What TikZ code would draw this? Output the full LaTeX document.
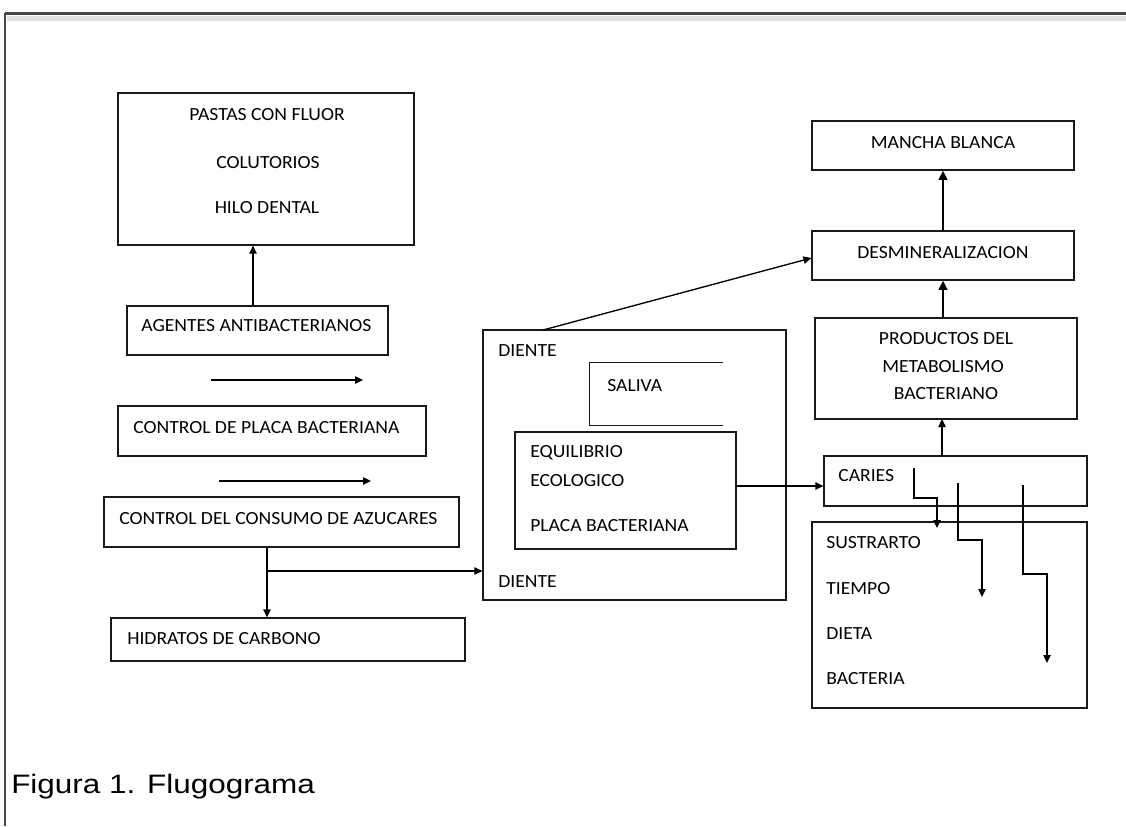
\documentclass[tikz,border=0pt]{standalone}
\usepackage{fontspec}
\setmainfont{Carlito}[FakeStretch=1.06]
\newfontfamily\capfont{Liberation Sans}[FakeStretch=1.18]
\usetikzlibrary{arrows.meta,fit}
\begin{document}
\begin{tikzpicture}[x=0.75pt,y=-0.75pt,
  box/.style={draw=black!90, line width=0.9pt, inner sep=0pt},
  lbl/.style={anchor=west, inner sep=0pt, text height=9pt, text depth=0pt, font=\fontsize{13.9}{16}\selectfont},
  ctr/.style={anchor=center, inner sep=0pt, text height=9pt, text depth=0pt, font=\fontsize{13.9}{16}\selectfont},
  arr/.style={line width=1pt, -{Triangle[length=6pt,width=5.5pt]}},
  thk/.style={line width=2pt, -{Triangle[length=7pt,width=6.5pt]}},
  frame/.style={line width=2.2pt, draw=black!72}]
\useasboundingbox (0,0) rectangle (1126,826);
% outer frame
\fill[black!12] (7,16) rectangle (1126,21);
\draw[frame] (5,13.5) -- (1126,13.5);
\draw[frame] (5,13) -- (5,826);

% left column
\node[box, fit={(118,93) (414,245)}] (pastas) {};
\node[ctr] (t1) at (267,114) {PASTAS CON FLUOR};
\node[ctr] (t2) at (268,162) {COLUTORIOS};
\node[ctr] (t3) at (267,207) {HILO DENTAL};

\node[box, fit={(127,306) (388,355)}] (agentes) {};
\node[lbl] (t4) at (141,325) {AGENTES ANTIBACTERIANOS};

\node[box, fit={(118,406) (426,456)}] (placa) {};
\node[lbl] (t5) at (133,427) {CONTROL DE PLACA BACTERIANA};

\node[box, fit={(104,497) (459,547)}] (consumo) {};
\node[lbl] (t6) at (119,518) {CONTROL DEL CONSUMO DE AZUCARES};

\node[box, fit={(111,618) (465,661)}] (hidratos) {};
\node[lbl] (t7) at (127,638) {HIDRATOS DE CARBONO};

% middle
\node[box, fit={(483,330) (786,600)}] (diente) {};
\node[lbl] (t8) at (498,350) {DIENTE};
\node[lbl] (t9) at (498,581) {DIENTE};
\node[inner sep=0pt, fit={(590,363) (723,425)}] (saliva) {};
\draw[line width=0.9pt, black!90] (saliva.north east) -- (saliva.north west) -- (saliva.south west) -- (saliva.south east);
\node[lbl] (t10) at (607,385) {SALIVA};
\node[box, fit={(515,432) (736,549)}] (equil) {};
\node[lbl] (t11) at (530,451) {EQUILIBRIO};
\node[lbl] (t12) at (530,480) {ECOLOGICO};
\node[lbl] (t13) at (530,525) {PLACA BACTERIANA};

% right column
\node[box, fit={(812,121) (1074,170)}] (mancha) {};
\node[ctr] (t14) at (943,142) {MANCHA BLANCA};
\node[box, fit={(812,231) (1074,280)}] (desmin) {};
\node[ctr] (t15) at (943,252) {DESMINERALIZACION};
\node[box, fit={(815,318) (1077,419)}] (prod) {};
\node[ctr] (t16) at (946,338) {PRODUCTOS DEL};
\node[ctr] (t17) at (943,366) {METABOLISMO};
\node[ctr] (t18) at (946,393) {BACTERIANO};
\node[box, fit={(824,456) (1087,506)}] (caries) {};
\node[lbl] (t19) at (838,475) {CARIES};
\node[box, fit={(812,522) (1087,708)}] (sust) {};
\node[lbl] (t20) at (826,542) {SUSTRARTO};
\node[lbl] (t21) at (826,588) {TIEMPO};
\node[lbl] (t22) at (826,633) {DIETA};
\node[lbl] (t23) at (826,678) {BACTERIA};

% caption
\node[anchor=base west, inner sep=0pt, font=\capfont\fontsize{20}{24}\selectfont] (cap) at (11,793) {Figura 1. Flugograma};

% coordinates
\coordinate (xa) at (253,0);
\coordinate (xc) at (267,0);
\coordinate (xr) at (943,0);
\coordinate (f1s) at (211,380);
\coordinate (f1e) at (363,380);
\coordinate (f2s) at (219,481);
\coordinate (f2e) at (371,481);
\coordinate (br) at (267,571);
\coordinate (dt) at (543,330);
\coordinate (eq) at (736,486);
\coordinate (e1s) at (914,468);
\coordinate (e2s) at (958,483);
\coordinate (e2e) at (982,597);
\coordinate (e3s) at (1023,485);
\coordinate (e3e) at (1047,663);

% connectors
\draw[arr] (xa |- agentes.north) -- (xa |- pastas.south);
\draw[arr] (f1s) -- (f1e);
\draw[arr] (f2s) -- (f2e);
\draw[arr] (xc |- consumo.south) -- (xc |- hidratos.north);
\draw[arr] (br) -- (br -| diente.west);
\draw[arr] (dt) -- (desmin.west |- 0,258);
\draw[arr] (eq) -- (eq -| caries.west);
\draw[arr] (942,456) -- (942,419);
\draw[thk] (xr |- prod.north) -- (xr |- desmin.south);
\draw[thk] (xr |- desmin.north) -- (xr |- mancha.south);
\draw[arr] (e1s) |- (937,498) -- (937,528);
\draw[arr] (e2s) |- (982,540) -- (e2e);
\draw[arr] (e3s) |- (1047,574) -- (e3e);
\end{tikzpicture}
\end{document}
